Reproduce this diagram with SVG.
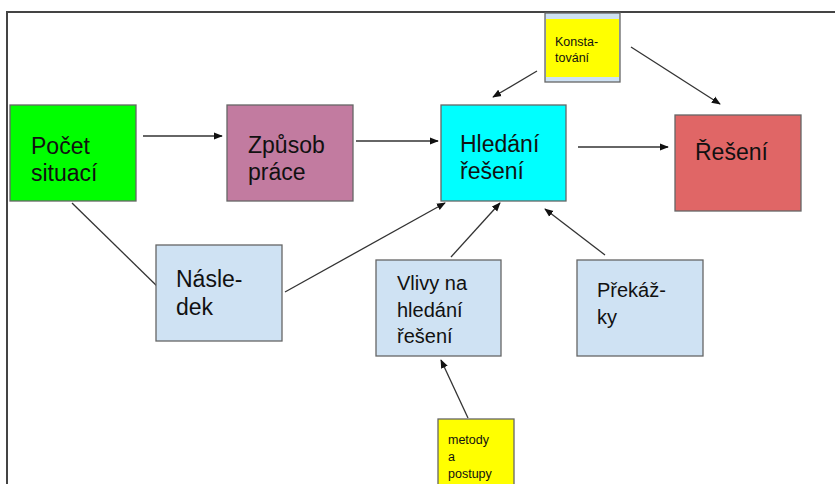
<svg xmlns="http://www.w3.org/2000/svg" width="835" height="484" viewBox="0 0 835 484">
<style>
.box{stroke:#666;stroke-width:1.3}
.t{font-family:"Liberation Sans",Arial,sans-serif;fill:#111}
.big{font-size:23px}
.mid{font-size:20px}
.sm{font-size:12.5px}
.c{stroke:#333;stroke-width:1.3;fill:none}
.a{marker-end:url(#ah)}
</style>
<defs>
<marker id="ah" viewBox="0 0 10 10" refX="9" refY="5" markerWidth="9" markerHeight="9" markerUnits="userSpaceOnUse" orient="auto">
<path d="M0,1 L10,5 L0,9 Z" fill="#111"/>
</marker>
</defs>
<rect width="835" height="484" fill="#fff"/>
<path d="M7,484 V12 H835" fill="none" stroke="#444" stroke-width="2"/>
<g id="connectors">
<line class="c a" x1="143" y1="136" x2="222" y2="136"/>
<line class="c a" x1="356" y1="141" x2="438" y2="141"/>
<line class="c a" x1="578" y1="147" x2="668" y2="147"/>
<line class="c a" x1="537" y1="71" x2="493" y2="97"/>
<line class="c a" x1="631" y1="47" x2="720" y2="104"/>
<line class="c" x1="72" y1="203" x2="160" y2="289"/>
<line class="c a" x1="285" y1="292" x2="445" y2="203"/>
<line class="c a" x1="451" y1="257" x2="500" y2="203"/>
<line class="c a" x1="605" y1="255" x2="545" y2="209"/>
<line class="c a" x1="468" y1="418" x2="441" y2="360"/>
</g>
<g id="pocet">
<rect class="box" x="10" y="105" width="126" height="96" fill="#00ff00"/>
<text class="t big" x="31" y="154">Počet</text>
<text class="t big" x="31" y="181">situací</text>
</g>
<g id="zpusob">
<rect class="box" x="227" y="105" width="126" height="96" fill="#c27ba0"/>
<text class="t big" x="248" y="153">Způsob</text>
<text class="t big" x="248" y="180">práce</text>
</g>
<g id="hledani">
<rect class="box" x="441" y="105" width="125" height="96" fill="#00ffff"/>
<text class="t big" x="460" y="152">Hledání</text>
<text class="t big" x="460" y="179">řešení</text>
</g>
<g id="reseni">
<rect class="box" x="675" y="115" width="126" height="96" fill="#e06666"/>
<text class="t big" x="695" y="160">Řešení</text>
</g>
<g id="nasledek">
<rect class="box" x="156" y="245" width="126" height="96" fill="#cfe2f3"/>
<text class="t big" x="176" y="287">Násle-</text>
<text class="t big" x="176" y="315">dek</text>
</g>
<g id="vlivy">
<rect class="box" x="376" y="260" width="125" height="96" fill="#cfe2f3"/>
<text class="t mid" x="397" y="290">Vlivy na</text>
<text class="t mid" x="397" y="317">hledání</text>
<text class="t mid" x="397" y="343">řešení</text>
</g>
<g id="prekazky">
<rect class="box" x="577" y="260" width="126" height="96" fill="#cfe2f3"/>
<text class="t mid" x="597" y="297">Překáž-</text>
<text class="t mid" x="597" y="324">ky</text>
</g>
<g id="konstatovani">
<rect class="box" x="545" y="13" width="75" height="69" fill="#cfe2f3"/>
<rect x="546" y="19" width="73" height="58" fill="#ffff00"/>
<text class="t sm" x="555" y="46">Konsta-</text>
<text class="t sm" x="555" y="62">tování</text>
</g>
<g id="metody">
<rect class="box" x="438" y="419" width="76" height="70" fill="#ffff00"/>
<text class="t sm" x="448" y="444">metody</text>
<text class="t sm" x="448" y="461">a</text>
<text class="t sm" x="448" y="478">postupy</text>
</g>
</svg>
